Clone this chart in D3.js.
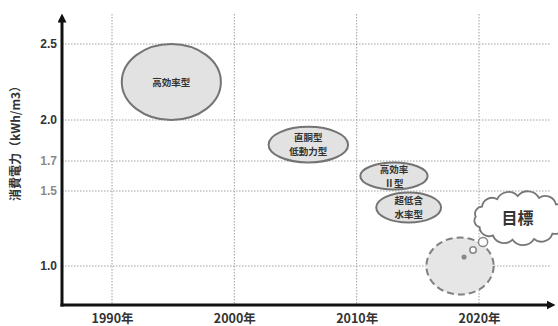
<!DOCTYPE html>
<html><head><meta charset="utf-8">
<script src="https://cdn.jsdelivr.net/npm/d3@7"></script>
<style>
body{margin:0;background:#fff;}
svg{display:block;font-family:"Noto Sans CJK JP","Noto Sans",sans-serif;}
</style></head>
<body>
<svg id="c" width="558" height="326"></svg>
<script>
// ---- data ----
const categories = ["高効率型", "直胴型\n低動力型", "高効率\nⅡ型", "超低含\n水率型"];
const yearStart = [1990.8, 2002.8, 2010.3, 2011.6];
const yearEnd   = [1998.9, 2009.3, 2015.8, 2016.9];
const valueLow  = [2.0, 1.69, 1.51, 1.29];
const valueHigh = [2.5, 1.95, 1.69, 1.49];
const targetLabel = "目標";
const targetYears = [2015.7, 2021.2];
const targetValues = [0.81, 1.19];
const targetCloud = {year: 2023.4, value: 1.32};
const xTicks = [1990, 2000, 2010, 2020];
const xTickLabels = ["1990年", "2000年", "2010年", "2020年"];
const yTicks = [1.0, 1.5, 1.7, 2.0, 2.5];
const yTickLabels = ["1.0", "1.5", "1.7", "2.0", "2.5"];
const yMinorTicks = [1.5, 1.7];
const yTitle = "消費電力（kWh/m3）";

// ---- scales ----
const svg = d3.select("#c");
const x = d3.scaleLinear().domain([1990, 2020]).range([112, 479]);
const y = d3.scaleLinear().domain([1.0, 1.5, 1.7, 2.0, 2.5]).range([266, 191, 161, 120, 44]);
const x0 = 62, xEnd = 557, yBase = 305, yTop = 12;

// grid
const grid = svg.append("g");
grid.selectAll("line.h").data(yTicks).join("line")
  .attr("x1", x0).attr("x2", 550).attr("y1", d => y(d)).attr("y2", d => y(d))
  .attr("stroke", "#a0a0a0").attr("stroke-width", 1).attr("stroke-dasharray", "1.5,1.5");
grid.selectAll("line.v").data(xTicks).join("line")
  .attr("y1", 14).attr("y2", yBase).attr("x1", d => x(d)).attr("x2", d => x(d))
  .attr("stroke", "#a0a0a0").attr("stroke-width", 1).attr("stroke-dasharray", "1.5,1.5");

// axes via d3 axis (tick text only)
const xAxis = svg.append("g").attr("transform", `translate(0,${yBase})`)
  .call(d3.axisBottom(x).tickValues(xTicks).tickSize(0).tickPadding(9)
    .tickFormat((d, i) => xTickLabels[i]));
xAxis.select(".domain").remove();
xAxis.selectAll("text").attr("font-size", 12.5).attr("font-weight", "bold").attr("fill", "#333")
  .attr("font-family", "Noto Sans CJK JP");

const yAxis = svg.append("g").attr("transform", `translate(${x0},0)`)
  .call(d3.axisLeft(y).tickValues(yTicks).tickSize(0).tickPadding(5)
    .tickFormat((d, i) => yTickLabels[i]));
yAxis.select(".domain").remove();
yAxis.selectAll("text").attr("font-size", 12).attr("font-weight", "bold")
  .attr("font-family", "Liberation Sans")
  .attr("fill", d => yMinorTicks.includes(d) ? "#8a8a8a" : "#333");

// axis lines with arrows
const defs = svg.append("defs");
defs.append("marker").attr("id", "arr").attr("viewBox", "0 0 10 10")
  .attr("refX", 5).attr("refY", 5).attr("markerWidth", 3).attr("markerHeight", 3)
  .attr("orient", "auto").append("path").attr("d", "M0,0 L10,5 L0,10 z").attr("fill", "#111");
svg.append("line").attr("x1", x0).attr("x2", x0).attr("y1", yBase + 1.5).attr("y2", yTop + 6)
  .attr("stroke", "#111").attr("stroke-width", 3).attr("marker-end", "url(#arr)");
svg.append("line").attr("x1", x0 - 1.5).attr("x2", xEnd - 6).attr("y1", yBase).attr("y2", yBase)
  .attr("stroke", "#111").attr("stroke-width", 3).attr("marker-end", "url(#arr)");

// y title
svg.append("text").attr("transform", `translate(17,${y(1.85)}) rotate(-90)`)
  .attr("text-anchor", "middle").attr("font-size", 12).attr("font-weight", "bold").attr("fill", "#333")
  .attr("dominant-baseline", "middle")
  .text(yTitle);

// ellipses
const data = categories.map((c, i) => ({c, x1: yearStart[i], x2: yearEnd[i], lo: valueLow[i], hi: valueHigh[i]}));
const g = svg.append("g");
const items = g.selectAll("g.e").data(data).join("g");
items.append("ellipse")
  .attr("cx", d => (x(d.x1) + x(d.x2)) / 2)
  .attr("cy", d => (y(d.lo) + y(d.hi)) / 2)
  .attr("rx", d => (x(d.x2) - x(d.x1)) / 2)
  .attr("ry", d => (y(d.lo) - y(d.hi)) / 2)
  .attr("fill", "#e2e2e2").attr("stroke", "#747474").attr("stroke-width", 2);
items.each(function(d) {
  const lines = d.c.split("\n");
  const cx = (x(d.x1) + x(d.x2)) / 2, cy = (y(d.lo) + y(d.hi)) / 2;
  lines.forEach((l, k) => {
    d3.select(this).append("text").attr("text-anchor", "middle")
      .attr("font-size", 9.5).attr("font-weight", "bold").attr("fill", "#333")
      .attr("x", cx).attr("y", cy + (k - (lines.length - 1) / 2) * 14 + 3.5).text(l);
  });
});

// target dashed circle
const tcx = (x(targetYears[0]) + x(targetYears[1])) / 2;
const tcy = (y(targetValues[0]) + y(targetValues[1])) / 2;
const trx = (x(targetYears[1]) - x(targetYears[0])) / 2;
const try_ = (y(targetValues[0]) - y(targetValues[1])) / 2;
svg.append("ellipse").attr("cx", tcx).attr("cy", tcy).attr("rx", trx).attr("ry", try_)
  .attr("fill", "#e6e6e6").attr("stroke", "#808080").attr("stroke-width", 2)
  .attr("stroke-dasharray", "7,4");

// thought bubbles (offsets from target centre)
const bub = [[4, -9, 1.8], [13, -16, 3.2], [23, -24, 4.6]];
bub.forEach(([dx, dy, r], i) => {
  svg.append("circle").attr("cx", tcx + dx).attr("cy", tcy + dy).attr("r", r)
    .attr("fill", i === 0 ? "#888" : "#fff").attr("stroke", "#888").attr("stroke-width", 1.5);
});

// cloud
const ccx = x(targetCloud.year), ccy = y(targetCloud.value);
const cw = 45, ch = 22, nb = 13;
const pts = d3.range(nb).map(i => {
  const a = i / nb * 2 * Math.PI + 0.3;
  return [ccx + cw * Math.cos(a), ccy + ch * Math.sin(a)];
});
let dpath = `M${pts[0][0]},${pts[0][1]}`;
for (let i = 1; i <= nb; i++) {
  const p = pts[i % nb], q = pts[i - 1];
  const dist = Math.hypot(p[0] - q[0], p[1] - q[1]);
  dpath += ` A${dist * 0.6},${dist * 0.6} 0 0 1 ${p[0]},${p[1]}`;
}
svg.append("path").attr("d", dpath + "Z").attr("fill", "#fff").attr("stroke", "#777").attr("stroke-width", 1.8);
svg.append("text").attr("x", ccx - 3).attr("y", ccy + 6).attr("text-anchor", "middle")
  .attr("font-size", 16).attr("font-weight", "bold").attr("fill", "#333").text(targetLabel);
</script>
</body></html>
